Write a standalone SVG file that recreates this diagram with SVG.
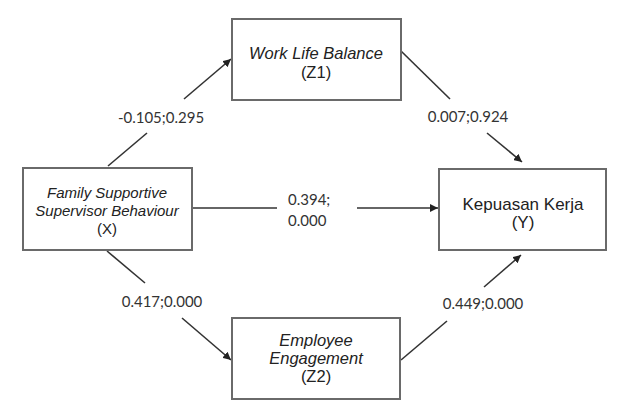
<svg xmlns="http://www.w3.org/2000/svg" width="627" height="416" viewBox="0 0 627 416">
<style>
.box{fill:#fff;stroke:#6a6a6a;stroke-width:2}
.bt{font-family:"Liberation Sans",Arial,sans-serif;font-size:17px;fill:#222;text-anchor:middle}
.sm{font-size:15px}
.md{font-size:16.5px}
.it{font-style:italic}
.ln{stroke:#333;stroke-width:1.6;fill:none}
.lb{font-family:Lato,"Open Sans",sans-serif;font-size:15px;fill:#333;text-anchor:middle}
</style>
<defs>
<marker id="ah" viewBox="0 0 10 10" refX="10" refY="5" markerWidth="8" markerHeight="8" markerUnits="userSpaceOnUse" orient="auto">
<path d="M0,0 L10,5 L0,10 z" fill="#222"/>
</marker>
</defs>
<rect width="627" height="416" fill="#fff"/>
<g id="connectors">
<line class="ln" x1="108" y1="166" x2="147" y2="133"/>
<line class="ln" x1="184" y1="99" x2="231" y2="59" marker-end="url(#ah)"/>
<text class="lb" x="161" y="123">-0.105;0.295</text>
<line class="ln" x1="401" y1="51" x2="450" y2="99"/>
<line class="ln" x1="487" y1="133" x2="522" y2="162" marker-end="url(#ah)"/>
<text class="lb" x="468" y="122">0.007;0.924</text>
<line class="ln" x1="107" y1="251" x2="145" y2="283"/>
<line class="ln" x1="182" y1="318" x2="231" y2="360" marker-end="url(#ah)"/>
<text class="lb" x="162" y="307">0.417;0.000</text>
<line class="ln" x1="401" y1="360" x2="447" y2="321"/>
<line class="ln" x1="484" y1="287" x2="521" y2="255" marker-end="url(#ah)"/>
<text class="lb" x="483" y="309">0.449;0.000</text>
<line class="ln" x1="192" y1="208" x2="277" y2="208"/>
<line class="ln" x1="357" y1="208" x2="438" y2="208" marker-end="url(#ah)"/>
<text class="lb" x="288" y="205" style="text-anchor:start">0.394;</text>
<text class="lb" x="288" y="226" style="text-anchor:start">0.000</text>
</g>
<g id="nodeX">
<rect class="box" x="23" y="168" width="169" height="82"/>
<text class="bt sm it" x="107" y="198">Family Supportive</text>
<text class="bt sm it" x="107" y="216">Supervisor Behaviour</text>
<text class="bt sm" x="107" y="234">(X)</text>
</g>
<g id="nodeZ1">
<rect class="box" x="232" y="19" width="169" height="81"/>
<text class="bt md it" x="316" y="59">Work Life Balance</text>
<text class="bt md" x="316" y="78">(Z1)</text>
</g>
<g id="nodeY">
<rect class="box" x="439" y="169" width="167" height="81"/>
<text class="bt" x="523" y="210">Kepuasan Kerja</text>
<text class="bt" x="523" y="228">(Y)</text>
</g>
<g id="nodeZ2">
<rect class="box" x="232" y="318" width="168" height="81"/>
<text class="bt md it" x="316" y="346">Employee</text>
<text class="bt md it" x="316" y="364">Engagement</text>
<text class="bt md" x="316" y="382">(Z2)</text>
</g>
</svg>
